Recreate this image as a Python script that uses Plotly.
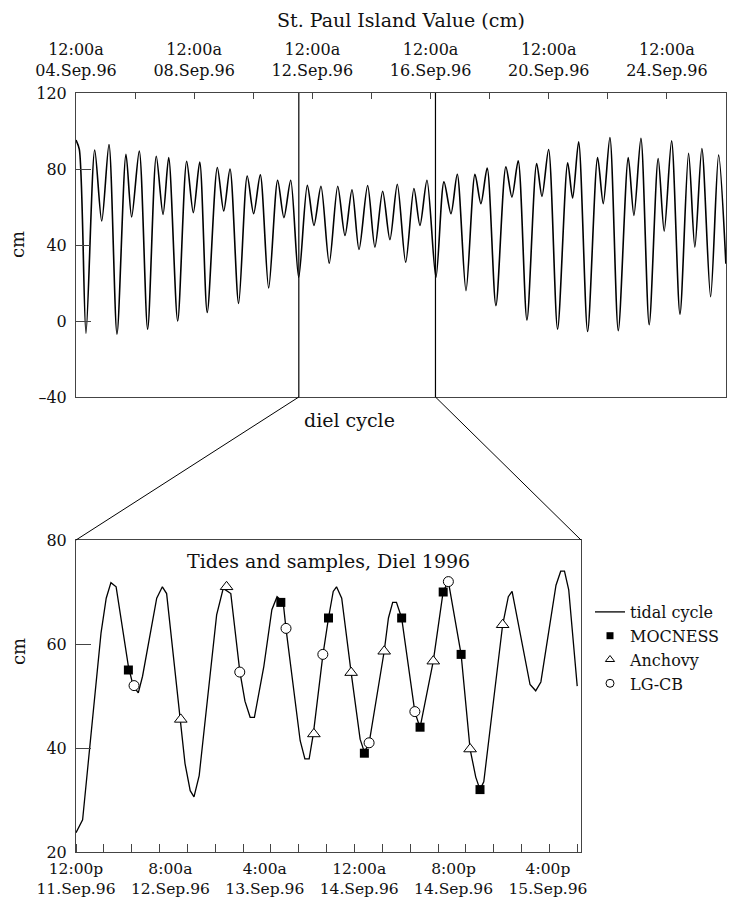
import pandas as pd
import plotly.graph_objects as go

# ---------------- data ----------------
# Top panel: St. Paul Island water level, hours since 1996-09-04 00:00
top_hours = [0, 2.7, 8.1, 15.2, 20.9, 26.8, 33.3, 40.6, 45.2, 51.4, 58.2, 65.2, 70.7, 75.3, 82.6,
             89.9, 95.3, 100.5, 106.6, 114.8, 120.0, 125.1, 132.1, 139.1, 144.3, 149.7, 156.5, 163.8,
             168.9, 174.4, 180.9, 187.9, 193.3, 199.0, 205.7, 212.6, 218.5, 224.2, 229.9, 236.9, 242.8,
             249.1, 255.0, 261.0, 267.8, 274.5, 279.4, 285.1, 292.4, 298.9, 304.6, 309.7, 316.8, 324.1,
             328.9, 334.0, 341.1, 349.2, 354.1, 359.2, 366.3, 374.2, 378.5, 383.9, 391.2, 399.4, 403.4,
             408.3, 415.6, 423.7, 428.3, 433.7, 440.5, 448.6, 453.2, 458.9, 465.6, 472.9, 477.8, 483.8,
             490.6, 497.6, 502.7, 508.4, 515.5, 522.0, 527.9]
top_cm = [95.2, 90.3, -6.4, 90, 52.6, 92.9, -6.9, 87.8, 54.7, 89.4, -4.3, 86.7, 56.1, 86, 0,
          84.1, 57, 83.6, 4.5, 80.8, 57.9, 80, 9.3, 76.3, 56.5, 76.9, 17.4, 74.1,
          54.4, 74.1, 23, 71.4, 50.3, 70.9, 30.4, 70.9, 45, 69.1, 37.6, 71.3, 38.9,
          68.3, 42.8, 72, 30.9, 69.7, 50.3, 74.1, 23, 73.2, 56.5, 77.2, 16, 77.2,
          61.8, 80.5, 8.1, 81.1, 65.2, 84.3, 0.5, 82.9, 65.6, 90.3, -4.3, 83.2, 64.7,
          94.3, -5.5, 86, 61.8, 96.6, -5.1, 86, 55.6, 96.1, -2, 85.5, 47.3, 94.8,
          3.6, 88.2, 38.9, 90.8, 12.8, 87.3, 30.1]

top_tick_dates = ["1996-09-04", "1996-09-08", "1996-09-12", "1996-09-16", "1996-09-20", "1996-09-24"]
top_tick_text = ["12:00a<br>04.Sep.96", "12:00a<br>08.Sep.96", "12:00a<br>12.Sep.96",
                 "12:00a<br>16.Sep.96", "12:00a<br>20.Sep.96", "12:00a<br>24.Sep.96"]
top_y_ticks = [-40, 0, 40, 80, 120]
top_y_text = ["\u201340", "0", "40", "80", "120"]

diel_marks = ["1996-09-11 13:00", "1996-09-16 04:00"]

# Bottom panel: diel tidal cycle, hours since 1996-09-11 12:00
diel_hours = [0, 1.4, 5.3, 6.4, 7.4, 8.5, 11.1, 12.1, 13.2, 14.1, 17.1, 18.3, 19.2, 22.2, 23.1,
              24.2, 25.0, 26.1, 29.8, 31.2, 32.8, 34.7, 35.8, 36.9, 37.8, 39.8, 41.5, 42.6, 43.9, 44.5,
              47.5, 48.5, 49.4, 50.3, 52.3, 53.5, 54.5, 55.2, 56.3, 58.3, 60.2, 61.1, 62.1, 65.3, 66.2,
              67.1, 67.9, 69.0, 71.8, 72.9, 75.7, 77.8, 78.9, 81.6, 83.5, 84.7, 85.6, 86.4, 90.4, 91.6,
              92.4, 96.2, 97.4, 98.5, 101.7, 102.7, 103.5, 104.4, 106.2]
diel_cm = [23.7, 26.2, 62.1, 68.8, 71.8, 71, 55.7, 52, 50.6, 53.8, 68.8, 71, 69.7, 45.5, 37,
           31.8, 30.6, 34.7, 65.6, 70.7, 69.7, 54.8, 49, 45.9, 45.9, 55.7, 66.6, 69.1, 68, 62.9,
           41.4, 37.9, 37.9, 42.8, 57.8, 65, 70.1, 71, 68.8, 54.5, 41.7, 39.2, 40.9, 58.6, 65,
           68, 68, 65, 46.9, 43.9, 56.7, 70.1, 72, 58, 39.8, 34.4, 32, 33.5, 63.7, 69.1,
           70.1, 52.2, 51, 52.7, 71.3, 74, 74, 70.4, 51.9]

mocness_hours = [11.1, 43.4, 53.5, 61.1, 69.0, 72.9, 77.8, 81.6, 85.6]
mocness_cm = [55, 68, 65, 39, 65, 44, 70, 58, 32]
anchovy_hours = [22.2, 31.9, 50.4, 58.3, 65.3, 75.7, 83.5, 90.4]
anchovy_cm = [45.5, 71, 42.7, 54.5, 58.6, 56.7, 39.8, 63.7]
lgcb_hours = [12.3, 34.7, 44.5, 52.3, 62.1, 71.8, 78.9]
lgcb_cm = [52, 54.6, 63, 58, 41, 47, 72]

bottom_tick_hours = [0, 20, 40, 60, 80, 100]
bottom_tick_text = ["12:00p<br>11.Sep.96", "8:00a<br>12.Sep.96", "4:00a<br>13.Sep.96",
                    "12:00a<br>14.Sep.96", "8:00p<br>14.Sep.96", "4:00p<br>15.Sep.96"]
bottom_y_ticks = [20, 40, 60, 80]

# ---------------- build ----------------
TOP_T0 = pd.Timestamp("1996-09-04 00:00")
TOP_T1 = pd.Timestamp("1996-09-26 00:00")
DIEL_T0 = pd.Timestamp("1996-09-11 12:00")
DIEL_T1 = DIEL_T0 + pd.Timedelta(hours=107)


def top_time(h):
    return [TOP_T0 + pd.Timedelta(hours=v) for v in h]


def diel_time(h):
    return [DIEL_T0 + pd.Timedelta(hours=v) for v in h]


W, H = 746, 900
FONT = "DejaVu Serif"
AX = "#444444"
x1dom = [76 / W, 726 / W]
y1dom = [1 - 397 / H, 1 - 93 / H]
x2dom = [76 / W, 581 / W]
y2dom = [1 - 852 / H, 1 - 540 / H]

fig = go.Figure()

fig.add_trace(go.Scatter(x=top_time(top_hours), y=top_cm, mode="lines",
                         line=dict(color="black", width=1.6, shape="spline", smoothing=0.8),
                         xaxis="x", yaxis="y", showlegend=False, hoverinfo="skip"))

fig.add_trace(go.Scatter(x=diel_time(diel_hours), y=diel_cm, mode="lines",
                         line=dict(color="black", width=1.3),
                         xaxis="x2", yaxis="y2", showlegend=False))
fig.add_trace(go.Scatter(x=diel_time(mocness_hours), y=mocness_cm, mode="markers",
                         marker=dict(symbol="square", size=9, color="black"),
                         xaxis="x2", yaxis="y2", showlegend=False))
fig.add_trace(go.Scatter(x=diel_time(anchovy_hours), y=anchovy_cm, mode="markers",
                         marker=dict(symbol="triangle-up", size=11, color="white",
                                     line=dict(color="black", width=1)),
                         xaxis="x2", yaxis="y2", showlegend=False))
fig.add_trace(go.Scatter(x=diel_time(lgcb_hours), y=lgcb_cm, mode="markers",
                         marker=dict(symbol="circle", size=10, color="white",
                                     line=dict(color="black", width=1)),
                         xaxis="x2", yaxis="y2", showlegend=False))

# legend entries
fig.add_trace(go.Scatter(x=[None], y=[None], mode="lines", name="tidal cycle",
                         line=dict(color="black", width=1.3), xaxis="x2", yaxis="y2"))
fig.add_trace(go.Scatter(x=[None], y=[None], mode="markers", name="MOCNESS",
                         marker=dict(symbol="square", size=7, color="black"), xaxis="x2", yaxis="y2"))
fig.add_trace(go.Scatter(x=[None], y=[None], mode="markers", name="Anchovy",
                         marker=dict(symbol="triangle-up", size=8, color="white",
                                     line=dict(color="black", width=1)), xaxis="x2", yaxis="y2"))
fig.add_trace(go.Scatter(x=[None], y=[None], mode="markers", name="LG-CB",
                         marker=dict(symbol="circle", size=8, color="white",
                                     line=dict(color="black", width=1)), xaxis="x2", yaxis="y2"))

tickfont = dict(family=FONT, size=16, color="#111")
bottom_tickfont = dict(family=FONT, size=15.5, color="#111")

fig.update_layout(
    template="none",
    width=W, height=H,
    margin=dict(l=0, r=0, t=0, b=0, autoexpand=False),
    paper_bgcolor="white", plot_bgcolor="white",
    font=dict(family=FONT, size=16, color="#111"),
    xaxis=dict(domain=x1dom, anchor="y", side="top", type="date", automargin=False,
               range=[TOP_T0, TOP_T1], tickmode="array",
               tickvals=top_tick_dates, ticktext=top_tick_text,
               ticks="inside", ticklen=6, tickcolor=AX, tickwidth=1,
               minor=dict(ticks="inside", ticklen=6, tickcolor=AX,
                          dtick=2 * 86400000, tick0="1996-09-04", showgrid=False),
               showline=True, linecolor=AX, linewidth=1, mirror=True,
               showgrid=False, zeroline=False, tickfont=tickfont,
               ticklabelstandoff=10),
    yaxis=dict(domain=y1dom, anchor="x", range=[-40, 120], tickmode="array", automargin=False,
               tickvals=top_y_ticks, ticktext=top_y_text,
               ticks="inside", ticklen=15, tickcolor=AX,
               showline=True, linecolor=AX, linewidth=1, mirror=True,
               showgrid=False, zeroline=False, tickfont=tickfont,
               ticklabelstandoff=5),
    xaxis2=dict(domain=x2dom, anchor="y2", type="date", automargin=False,
                range=[DIEL_T0, DIEL_T1], tickmode="array",
                tickvals=diel_time(bottom_tick_hours), ticktext=bottom_tick_text,
                ticks="",
                minor=dict(ticks="inside", ticklen=8, tickcolor=AX,
                           dtick=5.9 * 3600000, tick0=DIEL_T0, showgrid=False),
                showline=True, linecolor=AX, linewidth=1, mirror=True,
                showgrid=False, zeroline=False, tickfont=bottom_tickfont,
                ticklabelstandoff=2),
    yaxis2=dict(domain=y2dom, anchor="x2", range=[20, 80], tickmode="array", automargin=False,
                tickvals=bottom_y_ticks,
                ticks="inside", ticklen=15, tickcolor=AX,
                showline=True, linecolor=AX, linewidth=1, mirror=True,
                showgrid=False, zeroline=False, tickfont=tickfont,
                ticklabelstandoff=5),
    legend=dict(x=590 / W, y=1 - 595 / H, xanchor="left", yanchor="top",
                bgcolor="rgba(0,0,0,0)", font=dict(family=FONT, size=16, color="#111"),
                tracegroupgap=0, itemwidth=30),
    showlegend=True,
)

# diel window markers in top panel
for d in diel_marks:
    fig.add_shape(type="line", xref="x", yref="y domain", x0=d, x1=d, y0=0, y1=1,
                  line=dict(color="black", width=1.2))


def top_paper_x(t):
    frac = (pd.Timestamp(t) - TOP_T0) / (TOP_T1 - TOP_T0)
    return x1dom[0] + frac * (x1dom[1] - x1dom[0])


# zoom connectors
fig.add_shape(type="line", xref="paper", yref="paper",
              x0=top_paper_x(diel_marks[0]), y0=y1dom[0], x1=x2dom[0], y1=y2dom[1],
              line=dict(color="black", width=1))
fig.add_shape(type="line", xref="paper", yref="paper",
              x0=top_paper_x(diel_marks[1]), y0=y1dom[0], x1=x2dom[1], y1=y2dom[1],
              line=dict(color="black", width=1))

ann = [
    dict(text="St. Paul Island Value (cm)", x=(x1dom[0] + x1dom[1]) / 2, y=1 - 20 / H,
         font=dict(size=19)),
    dict(text="diel cycle", x=349 / W, y=1 - 420 / H, font=dict(size=19)),
    dict(text="Tides and samples, Diel 1996", x=(x2dom[0] + x2dom[1]) / 2, y=1 - 561 / H,
         font=dict(size=19)),
    dict(text="cm", x=18 / W, y=1 - 245 / H, textangle=-90, font=dict(size=18)),
    dict(text="cm", x=18 / W, y=1 - 652 / H, textangle=-90, font=dict(size=18)),
]
for a in ann:
    fig.add_annotation(xref="paper", yref="paper", showarrow=False,
                       xanchor="center", yanchor="middle", **a)

fig.write_html("out.html")
